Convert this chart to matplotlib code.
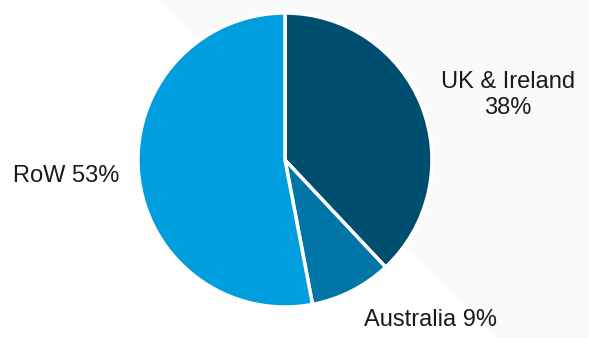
import matplotlib.pyplot as plt
from matplotlib.patches import Polygon

# Data
regions = ["UK & Ireland", "Australia", "RoW"]
shares = [38, 9, 53]
colors = ["#004e6f", "#0075a6", "#009ddf"]

plt.rcParams["font.family"] = ["Liberation Sans", "DejaVu Sans"]

fig = plt.figure(figsize=(5.89, 3.38), dpi=100)
ax = fig.add_axes([0, 0, 1, 1])

# faint slide background shape
bg = Polygon([(158, 338), (589, 338), (589, 0), (496, 0)], closed=True,
             facecolor="#fafafa", edgecolor="none", zorder=0)
ax.add_patch(bg)

wedges, _ = ax.pie(shares, colors=colors, startangle=90, counterclock=False,
                   center=(285, 178), radius=147, frame=True,
                   wedgeprops=dict(edgecolor="white", linewidth=2.5))
ax.set_xlim(0, 589)
ax.set_ylim(0, 338)
ax.set_aspect("equal")
ax.axis("off")

ax.text(508, 243, f"{regions[0]}\n{shares[0]}%", ha="center", va="center",
        fontsize=17, color="#1a1a1a", linespacing=1.25)
ax.text(430, 18, f"{regions[1]} {shares[1]}%", ha="center", va="center",
        fontsize=17, color="#1a1a1a")
ax.text(66, 162, f"{regions[2]} {shares[2]}%", ha="center", va="center",
        fontsize=17, color="#1a1a1a")

fig.savefig("out.png", dpi=100)
